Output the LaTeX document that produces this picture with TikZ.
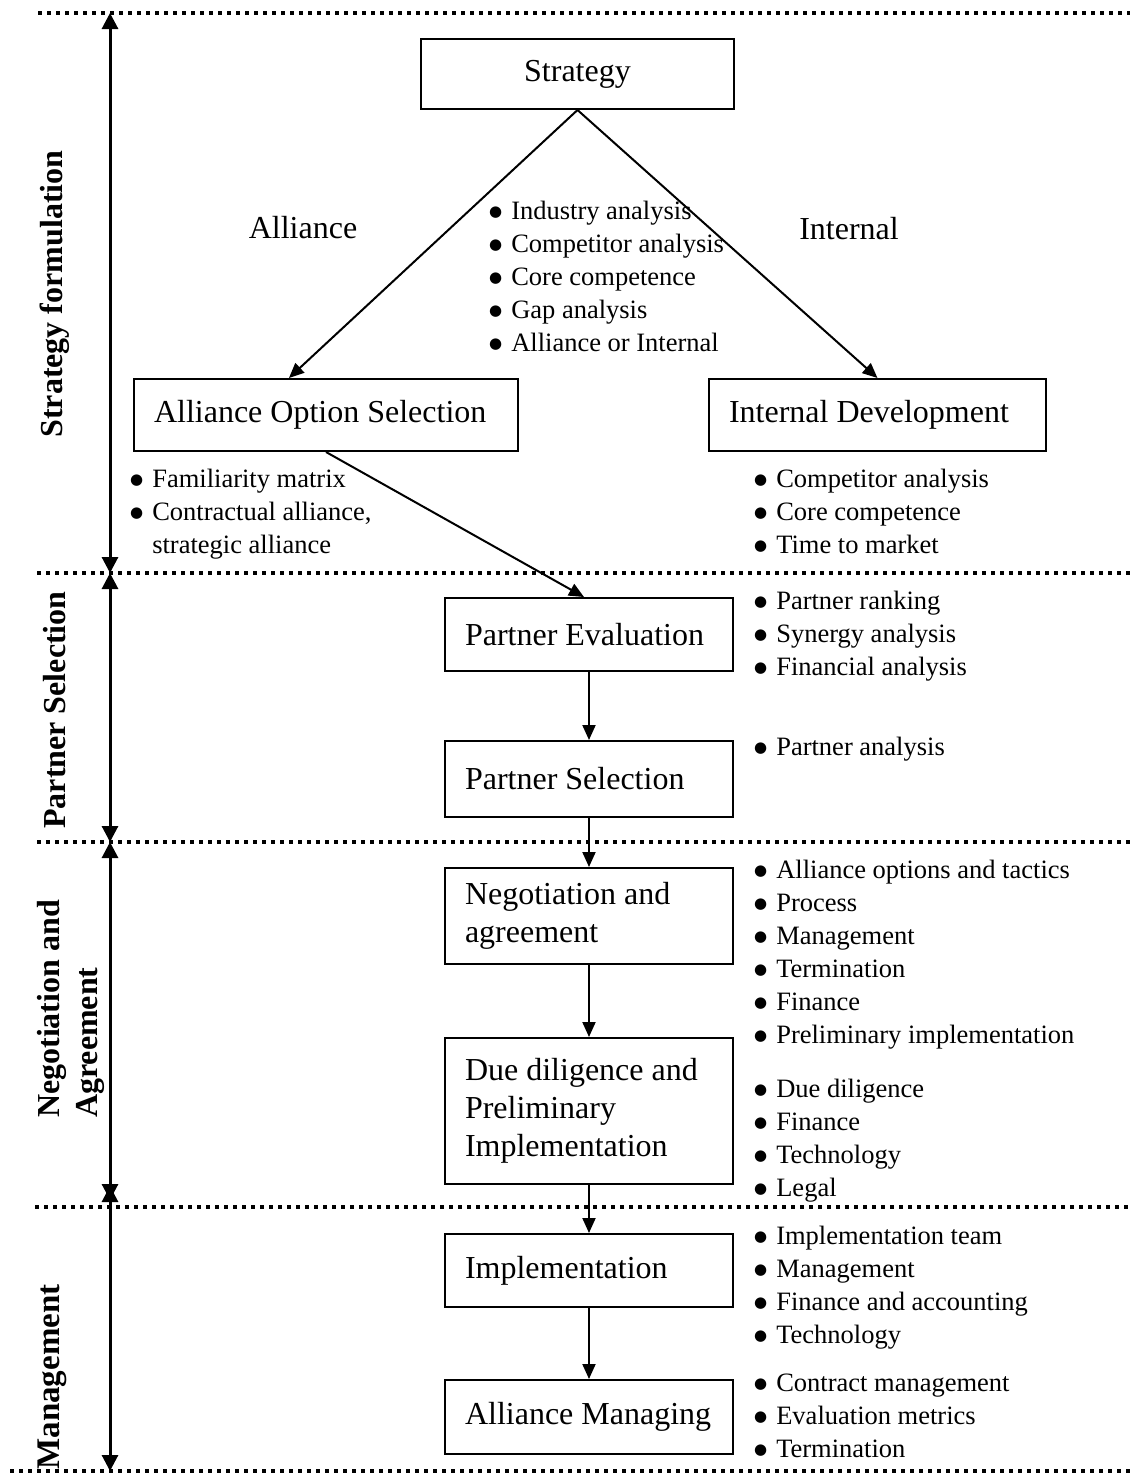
\documentclass[tikz,border=0pt]{standalone}
\usepackage{fontspec}
\setmainfont{Liberation Serif}
\newfontfamily\symfont{DejaVu Sans}
\usetikzlibrary{arrows.meta,calc}

% bulleted note list, first baseline on top
\newcommand{\notelist}[1]{\begin{tabular}[t]{@{}l@{\hspace{9pt}}l@{}}#1\end{tabular}}
\newcommand{\bigdot}{\raisebox{2.5pt}{\symfont\fontsize{15}{15}\selectfont ●}}
\newcommand{\itm}{\bigdot &}

\begin{document}
\begin{tikzpicture}[x=1pt,y=-1pt,
  box/.style={draw, line width=2pt, inner xsep=20pt, inner ysep=0pt,
    font=\fontsize{32}{38}\selectfont, align=flush left, anchor=north west},
  flow/.style={line width=2pt, -{Triangle[length=15pt,width=13pt]}},
  span/.style={line width=3pt,
    {Triangle[length=16pt,width=16pt]}-{Triangle[length=16pt,width=16pt]}},
  sep/.style={line width=4pt, dash pattern=on 4pt off 5pt},
  phase/.style={rotate=90, font=\fontsize{32}{38}\selectfont\bfseries,
    align=flush left, inner sep=0pt},
  lbl/.style={font=\fontsize{32}{38}\selectfont, inner sep=0pt},
  notes/.style={font=\fontsize{26.5}{33}\selectfont, inner sep=0pt, anchor=base west},
]
\useasboundingbox (0,0) rectangle (1130,1476);

% phase separators
\draw[sep] (38,13) -- (1130,13);
\draw[sep] (37,573) -- (1130,573);
\draw[sep] (37,842) -- (1130,842);
\draw[sep] (35,1207) -- (1130,1207);
\draw[sep] (10,1471) -- (1130,1471);

% phase extent arrows
\coordinate (p0) at (110,13);
\coordinate (p1) at (110,573);
\coordinate (p2) at (110,842);
\coordinate (p3a) at (110,1200);
\coordinate (p3b) at (110,1186);
\coordinate (p4) at (110,1471);
\draw[span] (p0) -- (p1);
\draw[span] (p1) -- (p2);
\draw[span] (p2) -- (p3a);
\draw[span] (p3b) -- (p4);

% phase names
\node[phase] (ph1) at (55,294) {Strategy formulation};
\node[phase] (ph2) at (55,710) {Partner Selection};
\node[phase] (ph3) at (71,1009) {Negotiation and\\Agreement};
\node[phase, font=\fontsize{33}{38}\selectfont\bfseries] (ph4) at (52,1377) {Management};

% process boxes
\node[box, align=center, text width=273pt, minimum height=70pt] (strat) at (420,38) {Strategy};
\node[box, text width=344pt, minimum height=72pt] (aos) at (133,378) {Alliance Option Selection};
\node[box, text width=297pt, minimum height=72pt] (idev) at (708,378) {Internal Development};
\node[box, text width=248pt, minimum height=73pt] (peval) at (444,597) {Partner Evaluation};
\node[box, text width=248pt, minimum height=76pt] (psel) at (444,740) {Partner Selection};
\node[box, text width=248pt, minimum height=96pt] (nego) at (444,867) {Negotiation and\\agreement};
\node[box, text width=248pt, minimum height=146pt] (dued) at (444,1037) {Due diligence and\\Preliminary\\Implementation};
\node[box, text width=248pt, minimum height=73pt] (impl) at (444,1233) {Implementation};
\node[box, text width=248pt, minimum height=74pt] (amng) at (444,1379) {Alliance Managing};

% branch labels
\node[lbl] (lalli) at (303,228) {Alliance};
\node[lbl] (lint) at (849,229) {Internal};

% connectors
\draw[flow] (strat.south) -- ($(aos.north west)!0.404!(aos.north east)$);
\draw[flow] (strat.south) -- (idev.north);
\draw[flow] ($(aos.south west)!0.5!(aos.south east)$) -- ($(peval.north)+(-5,0)$);
\draw[flow] (peval.south) -- (psel.north);
\draw[flow] (psel.south) -- (nego.north);
\draw[flow] (nego.south) -- (dued.north);
\draw[flow] (dued.south) -- (impl.north);
\draw[flow] (impl.south) -- (amng.north);

% notes
\node[notes] (nstrat) at (489,219) {\notelist{
  \itm Industry analysis\\
  \itm Competitor analysis\\
  \itm Core competence\\
  \itm Gap analysis\\
  \itm Alliance or Internal}};
\node[notes] (naos) at (130,487) {\notelist{
  \itm Familiarity matrix\\
  \itm Contractual alliance,\\
  & strategic alliance}};
\node[notes] (nidev) at (754,487) {\notelist{
  \itm Competitor analysis\\
  \itm Core competence\\
  \itm Time to market}};
\node[notes] (npeval) at (754,609) {\notelist{
  \itm Partner ranking\\
  \itm Synergy analysis\\
  \itm Financial analysis}};
\node[notes] (npsel) at (754,755) {\notelist{
  \itm Partner analysis}};
\node[notes] (nnego) at (754,878) {\notelist{
  \itm Alliance options and tactics\\
  \itm Process\\
  \itm Management\\
  \itm Termination\\
  \itm Finance\\
  \itm Preliminary implementation}};
\node[notes] (ndued) at (754,1097) {\notelist{
  \itm Due diligence\\
  \itm Finance\\
  \itm Technology\\
  \itm Legal}};
\node[notes] (nimpl) at (754,1244) {\notelist{
  \itm Implementation team\\
  \itm Management\\
  \itm Finance and accounting\\
  \itm Technology}};
\node[notes] (namng) at (754,1391) {\notelist{
  \itm Contract management\\
  \itm Evaluation metrics\\
  \itm Termination}};

\end{tikzpicture}
\end{document}
